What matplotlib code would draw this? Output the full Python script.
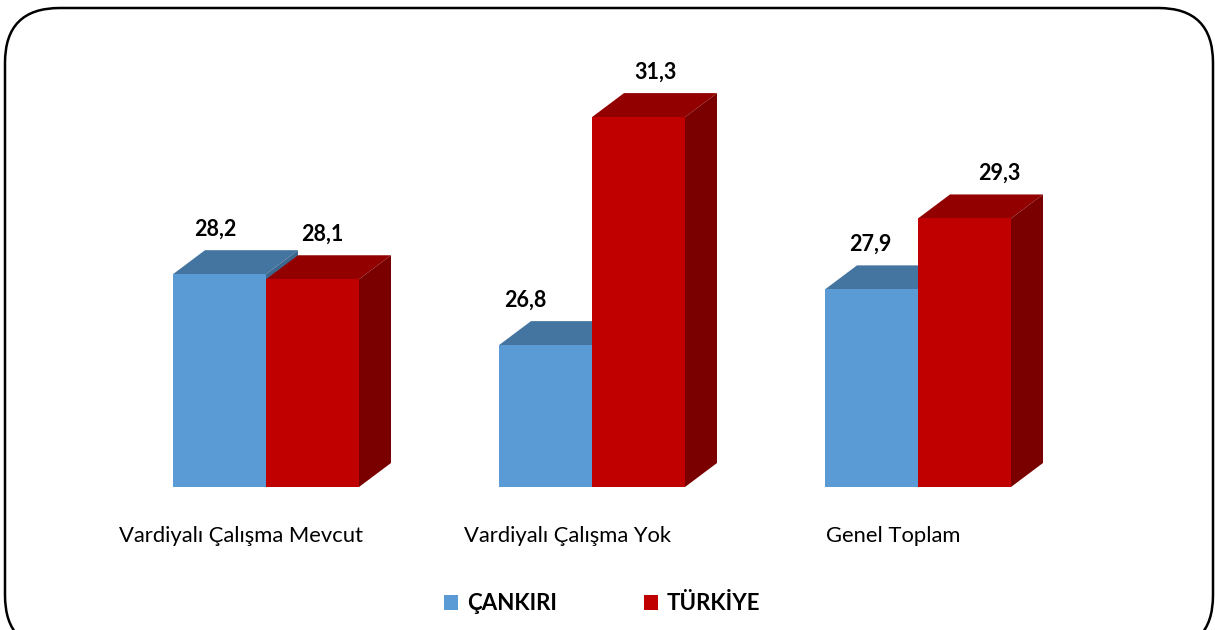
import matplotlib
matplotlib.use("Agg")
import matplotlib.pyplot as plt
from matplotlib.patches import Polygon, FancyBboxPatch, Patch

categories = ["Vardiyalı Çalışma Mevcut", "Vardiyalı Çalışma Yok", "Genel Toplam"]
series_names = ["ÇANKIRI", "TÜRKİYE"]
cankiri = [28.2, 26.8, 27.9]
turkiye = [28.1, 31.3, 29.3]
value_labels_cankiri = ["28,2", "26,8", "27,9"]
value_labels_turkiye = ["28,1", "31,3", "29,3"]

W, H, DPI = 1215, 630, 100
fig = plt.figure(figsize=(W / DPI, H / DPI), dpi=DPI)
ax = fig.add_axes([0, 0, 1, 1])
ax.set_axis_off()

# scales: pixels per unit
px_x = 326.0
px_y = 50.67
base = 24.0
x0_px = 266.0   # pixel of group 0 boundary
base_px = 487.0  # pixel row of baseline from top
ax.set_xlim(-x0_px / px_x, (W - x0_px) / px_x)
ax.set_ylim(base - (H - base_px) / px_y, base + base_px / px_y)

bw = 93.0 / px_x
ddx = 32.0 / px_x
ddy = 24.0 / px_y

styles = [
    dict(front="#5B9BD5", top="#4474A0", side="#3C6890"),
    dict(front="#C00000", top="#920000", side="#7A0000"),
]

def bar3d(x, h, st):
    # top
    ax.add_patch(Polygon([(x, h), (x + bw, h), (x + bw + ddx, h + ddy), (x + ddx, h + ddy)],
                         closed=True, facecolor=st["top"], edgecolor="none"))
    # side
    ax.add_patch(Polygon([(x + bw, base), (x + bw + ddx, base + ddy), (x + bw + ddx, h + ddy), (x + bw, h)],
                         closed=True, facecolor=st["side"], edgecolor="none"))
    # front
    ax.add_patch(Polygon([(x, base), (x + bw, base), (x + bw, h), (x, h)],
                         closed=True, facecolor=st["front"], edgecolor="none"))

label_dx_c = [-4, -20, -1]
label_dx_t = [10, 17, 35]
for i in range(len(categories)):
    xb = i - bw
    xr = i
    bar3d(xb, cankiri[i], styles[0])
    bar3d(xr, turkiye[i], styles[1])
    ax.text(xb + bw / 2 + label_dx_c[i] / px_x, cankiri[i] + ddy + 21 / px_y, value_labels_cankiri[i],
            ha="center", va="center", fontsize=15.5, fontweight="bold", family="Lato")
    ax.text(xr + bw / 2 + label_dx_t[i] / px_x, turkiye[i] + ddy + 21 / px_y, value_labels_turkiye[i],
            ha="center", va="center", fontsize=15.5, fontweight="bold", family="Lato")
    ax.text(i - 25 / px_x, base - 49 / px_y, categories[i], ha="center", va="center",
            fontsize=15.8, family="Lato")

handles = [Patch(facecolor=styles[0]["front"]), Patch(facecolor=styles[1]["front"])]
leg = fig.legend(handles, series_names, loc="center", bbox_to_anchor=(602 / W, 1 - 604 / H),
                 ncol=2, frameon=False, handlelength=0.65, handleheight=0.65,
                 handletextpad=0.4, columnspacing=3.9,
                 prop=dict(family="Lato", weight="bold", size=16))

frame = FancyBboxPatch((5 / W, -20 / H), (1208) / W, (622 + 20 - 8 + 8) / H,
                       boxstyle="round,pad=0,rounding_size=0.045",
                       transform=fig.transFigure, facecolor="none", edgecolor="black",
                       linewidth=1.8, mutation_aspect=W / H)
fig.patches.append(frame)

fig.savefig("out.png", dpi=DPI)
